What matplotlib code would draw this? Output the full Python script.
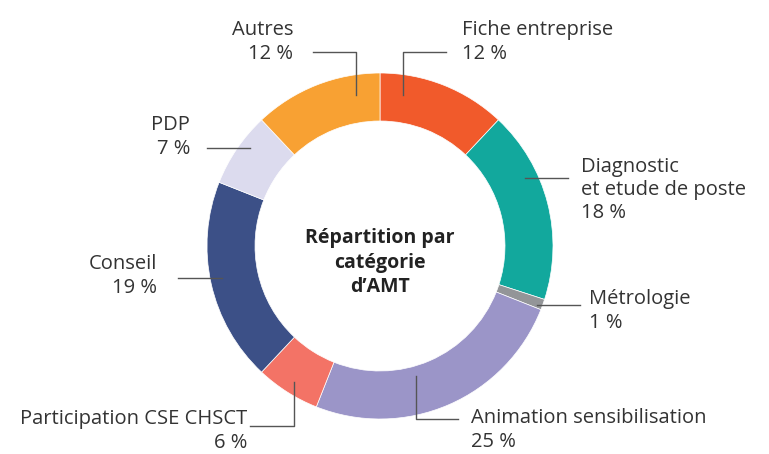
import matplotlib
matplotlib.use("Agg")
import matplotlib.pyplot as plt

# === Daten ===
categories = ["Fiche entreprise", "Diagnostic\net etude de poste", "Métrologie",
              "Animation sensibilisation", "Participation CSE CHSCT", "Conseil",
              "PDP", "Autres"]
values = [12, 18, 1, 25, 6, 19, 7, 12]
colors = ["#F15A2B", "#12A89D", "#939598", "#9B95C8", "#F37366", "#3C5087",
          "#DCDBEE", "#F8A133"]
center_title = "Répartition par\ncatégorie\nd’AMT"

# === Layout (Pixel-Koordinaten) ===
cx, cy, r_out, width = 380, 246, 173, 48
# Leader lines + text position + alignment per category
layout = [
    ([(403, 95), (403, 52), (446, 52)], (462, 42), "left"),
    ([(525, 178), (568, 178)], (581, 190), "left"),
    ([(537, 305), (580, 305)], (589, 311), "left"),
    ([(416, 376), (416, 419), (458, 419)], (471, 430), "left"),
    ([(294, 382), (294, 426), (250, 426)], (247, 431), "right"),
    ([(222, 278), (178, 278)], (157, 276), "right"),
    ([(250, 148), (207, 148)], (190, 137), "right"),
    ([(356, 95), (356, 52), (313, 52)], (293, 42), "right"),
]

plt.rcParams["font.family"] = ["Open Sans", "DejaVu Sans"]
text_color = "#333333"
line_color = "#555555"

fig = plt.figure(figsize=(7.69, 4.54), dpi=100)
ax = fig.add_axes([0, 0, 1, 1])

ax.pie(values, colors=colors, center=(cx, cy), radius=r_out,
       startangle=-90, counterclock=True,
       wedgeprops=dict(width=width, edgecolor="white", linewidth=0.5),
       frame=True)
ax.set_xlim(0, 769)
ax.set_ylim(454, 0)
ax.set_aspect("equal")
ax.axis("off")

for cat, val, (pts, (tx, ty), ha) in zip(categories, values, layout):
    xs = [p[0] for p in pts]
    ys = [p[1] for p in pts]
    ax.plot(xs, ys, color=line_color, linewidth=1)
    ax.text(tx, ty, f"{cat}\n{val} %", ha=ha, va="center", fontsize=14.5,
            color=text_color, linespacing=1.22, multialignment=ha)

ax.text(cx, 263, center_title, ha="center", va="center", fontsize=14,
        fontweight="bold", color="#222222", linespacing=1.3)

fig.savefig("out.png", dpi=100)
